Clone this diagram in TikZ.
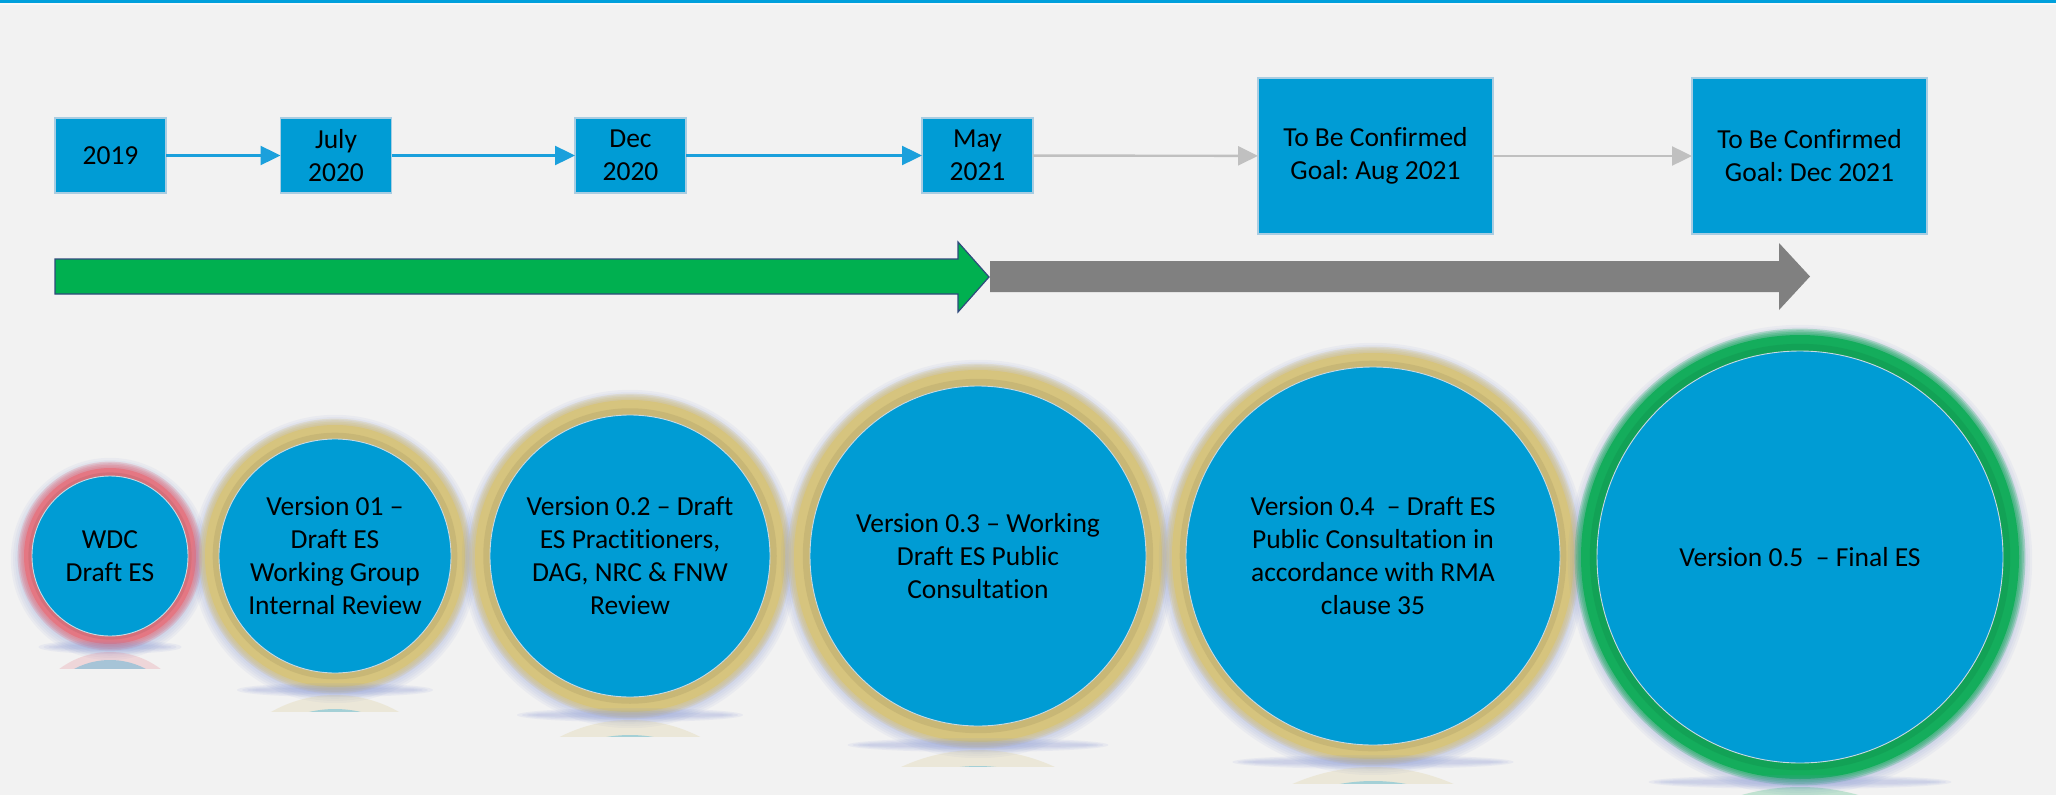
\documentclass[tikz,border=0pt]{standalone}
\usepackage{fontspec}
\setmainfont[Ligatures=NoCommon]{Carlito}
\frenchspacing
\usetikzlibrary{arrows.meta}
\definecolor{bgc}{HTML}{F2F2F2}
\definecolor{topblue}{HTML}{00A0DC}
\definecolor{boxblue}{HTML}{009CD5}
\definecolor{boxedge}{HTML}{A9CDE2}
\definecolor{lineblue}{HTML}{1BA0DC}
\definecolor{lightgrey}{HTML}{C0C0C0}
\definecolor{arrgreen}{HTML}{00B050}
\definecolor{arrgray}{HTML}{808080}
\definecolor{arredge}{HTML}{2F4A7C}
\definecolor{circblue}{HTML}{009CD4}
\definecolor{circedge}{HTML}{C9D9E2}
\definecolor{goldring}{HTML}{D6C47E}
\definecolor{redring}{HTML}{E47783}
\definecolor{greenring}{HTML}{14AD5C}
\definecolor{shadowblue}{HTML}{7D8ED2}

\tikzset{
  every node/.style={font=\fontsize{27.5}{33}\selectfont, text=black},
  datebox/.style={fill=boxblue, draw=boxedge, line width=1.2pt, minimum width=111pt, minimum height=75pt, inner sep=0pt, align=center, outer sep=0pt},
  goalbox/.style={datebox, minimum width=235pt, minimum height=156pt},
  bluelink/.style={draw=lineblue, line width=2.4pt, -{Triangle[length=20pt,width=19pt]}},
  greylink/.style={draw=lightgrey, line width=2.4pt, -{Triangle[length=20pt,width=19pt]}},
  bubtext/.style={align=center, inner sep=0pt},
}

% #1 name, #2 cx, #3 cy, #4 rx, #5 ry, #6 ring width, #7 ring colour, #8 text
\newcommand\mybubble[8]{%
  \foreach \k in {1,...,6}{
    \fill[shadowblue, opacity=0.07] (#2,#3+3) ellipse [x radius={#4+#6+\k*2.2}, y radius={#5+#6+\k*2.2}];
  }
  \foreach \k in {1,...,4}{
    \fill[#7, opacity=0.25] (#2,#3) ellipse [x radius={#4+#6+\k*1.6}, y radius={#5+#6+\k*1.6}];
  }
  \fill[#7] (#2,#3) ellipse [x radius={#4+#6}, y radius={#5+#6}];
  \fill[#7!75!black, opacity=0.25] (#2,#3) ellipse [x radius={#4+#6*0.45}, y radius={#5+#6*0.45}];
  \foreach \k in {1,...,4}{
    \fill[shadowblue, opacity=0.09] (#2,#3+#5+#6+3) ellipse [x radius={0.6*(#4+#6)+\k*5}, y radius={1+\k*1.5}];
  }
  \begin{scope}
    \clip (#2-#4-#6-30,#3+#5+#6+4) rectangle (#2+#4+#6+30,#3+#5+#6+24);
    \fill[#7, opacity=0.22] (#2,#3+2*#5+2*#6+8) ellipse [x radius={#4+#6}, y radius={#5+#6}];
    \fill[circblue, opacity=0.3] (#2,#3+2*#5+2*#6+8) ellipse [x radius={#4}, y radius={#5}];
  \end{scope}
  \fill[circblue] (#2,#3) ellipse [x radius={#4}, y radius={#5}];
  \draw[circedge, line width=0.9pt] (#2,#3) ellipse [x radius={#4}, y radius={#5}];
  \node[bubtext] (#1) at (#2,#3) {#8};
}

\begin{document}
\begin{tikzpicture}[x=1pt, y=-1pt]
\fill[white] (0,0) rectangle (2067,795);
\useasboundingbox (0,0) rectangle (2067,795);
\fill[bgc] (0,0) rectangle (2056,795);
\fill[topblue] (0,0) rectangle (2056,3);
\fill[white, opacity=0.6] (0,3) rectangle (2056,5);

% date boxes
\node[datebox] (d2019) at (110.5,155.5) {2019};
\node[datebox] (jul2020) at (336,155.5) {July\\2020};
\node[datebox] (dec2020) at (630.5,155.5) {Dec\\2020};
\node[datebox] (may2021) at (977.5,155.5) {May\\2021};
\node[goalbox] (aug2021) at (1375.5,156) {To Be Confirmed\\Goal: Aug 2021};
\node[goalbox] (dec2021) at (1809.5,156) {To Be Confirmed\\Goal: Dec 2021};

\draw[bluelink] (d2019) -- (jul2020);
\draw[bluelink] (jul2020) -- (dec2020);
\draw[bluelink] (dec2020) -- (may2021);
\draw[greylink] (may2021) -- (aug2021);
\draw[greylink] (aug2021) -- (dec2021);

% big progress arrows
\fill[arrgray] (990,261) -- (1779,261) -- (1779,243) -- (1810,276.5) -- (1779,310) -- (1779,292) -- (990,292) -- cycle;
\filldraw[fill=arrgreen, draw=arredge, line width=1.2pt, line join=miter]
  (55,259) -- (958,259) -- (958,242) -- (989,277) -- (958,312) -- (958,294) -- (55,294) -- cycle;

% bubbles
\mybubble{wdc}{110}{556}{78}{80}{8}{redring}{WDC\\Draft ES}
\mybubble{v01}{335}{556}{116}{117}{14}{goldring}{Version 01 –\\Draft ES\\Working Group\\Internal Review}
\mybubble{v02}{630}{556}{140}{141}{15}{goldring}{Version 0.2 – Draft\\ES Practitioners,\\DAG, NRC \& FNW\\Review}
\mybubble{v03}{978}{556}{168}{170}{16}{goldring}{Version 0.3 – Working\\Draft ES Public\\Consultation}
\mybubble{v04}{1373}{556}{187}{189}{14}{goldring}{Version 0.4\ \ – Draft ES\\Public Consultation in\\accordance with RMA\\clause 35}
\mybubble{v05}{1800}{557}{203}{206}{16}{greenring}{Version 0.5\ \ – Final ES}
\end{tikzpicture}
\end{document}
